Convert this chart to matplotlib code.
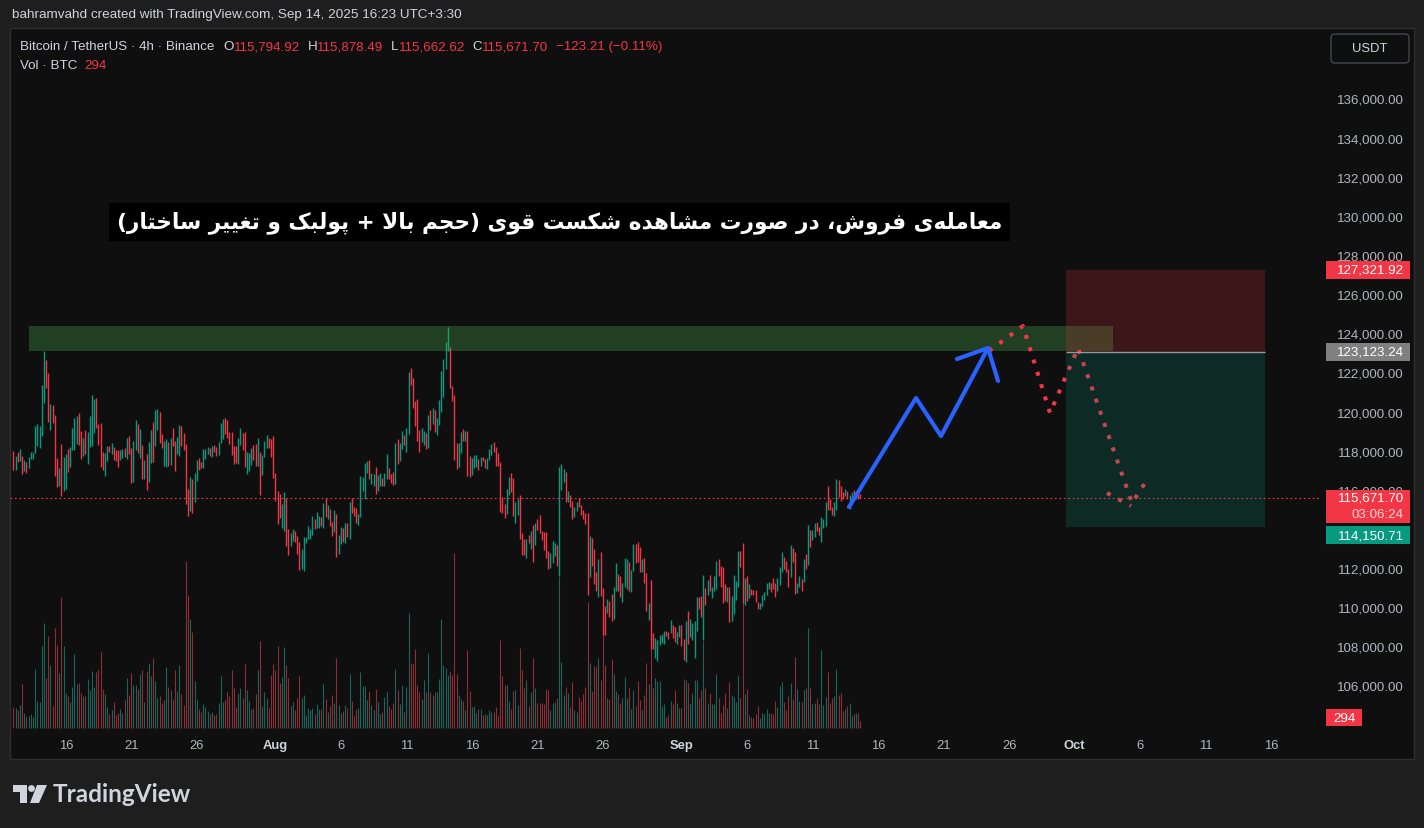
import numpy as np
import pandas as pd
import matplotlib
matplotlib.use("Agg")
import matplotlib.pyplot as plt
import matplotlib.dates as mdates
import matplotlib.transforms as mtransforms
from matplotlib.patches import Rectangle, FancyBboxPatch, Polygon, Circle

plt.rcParams["font.family"] = ["Liberation Sans", "DejaVu Sans"]

# ---- BTCUSDT 4h candles (Binance): 11 Jul -> 14 Sep 2025
highs = [
    118062, 117824, 118011, 118164, 117807, 117603, 117484, 117756, 118011, 118011,
    119337, 119422, 119337, 121428, 123179, 122703, 122040, 120459, 120408, 119898,
    117705, 117195, 118419, 117756, 117909, 118164, 118266, 119235, 119745, 119847,
    120000, 119082, 118725, 119133, 119031, 119847, 120918, 120714, 120765, 119439,
    119490, 118011, 117960, 118317, 118317, 118470, 118266, 118113, 118113, 118113,
    118164, 118215, 118725, 118827, 118215, 118572, 119643, 119439, 119184, 118368,
    117603, 117909, 118521, 119133, 119541, 120153, 120204, 120051,
    118929, 118572, 118674, 118521, 118725, 119235, 118572, 118776, 119388, 119337,
    118980, 118419, 116124, 116736, 116634, 116940, 117603, 117705, 117501, 118164,
    118164, 118266, 118215, 118317, 118368, 118266, 118521, 119490, 119694, 119745,
    119643, 119031, 119031, 118317, 118317, 118725, 119235, 118980, 119031, 118011,
    117960, 118215, 118368, 118419, 118725, 118011, 117858, 118572, 118878, 118725,
    118674, 118827, 116957, 116022, 115869, 115325, 115971, 115665, 114050, 113880,
    114050, 113965, 113727, 113387, 113030, 113676, 113676,
    114237, 114050, 114747, 114594, 114951, 114747, 114696, 115410, 115665, 115308,
    115104, 114441, 115053, 114849, 113744, 114186, 114101, 114390, 114356, 115461,
    115665, 115206, 115155, 114849, 116787, 116736, 117450, 117552, 117603, 116957,
    116889, 117246, 116855, 116957, 116702, 116957, 117909, 117212, 116906, 116991,
    118470, 118674, 118470, 119082, 118878, 119235, 122091, 122295, 121785, 120612,
    120714, 119133, 119235, 119082, 118980, 119898, 120153, 120255, 120153, 119745,
    120663, 122142, 122754, 123621, 124386, 123366,
    121400, 120900, 118470, 118470, 119031, 119184, 119082, 119082, 117807, 117705,
    117858, 117858, 117654, 117756, 117756, 117654, 117705, 118164, 118419, 118521,
    118266, 117960, 117501, 115682, 115359, 116141, 116753, 116940, 116685, 115461,
    115614, 115818, 113880, 113574, 113574, 113778, 113982, 114288, 114390, 114594,
    114798, 113982, 113931, 113931, 112928, 112826, 113472, 113370, 113268, 117263,
    117399, 117161, 116991, 115988, 115818, 115478, 115172, 115427, 115631, 115274,
    115019, 114866, 114866, 113693, 113625, 113030, 111857,
    112554, 112911, 111075, 110123, 110514, 110412, 110769, 111126, 112350, 111789,
    111687, 111330, 112605, 112554, 112401, 111993, 113319, 113319, 113421, 113166,
    112554, 112605, 111840, 110276, 111483, 108780, 108525, 108423, 108678, 108729,
    108882, 108882, 108831, 109443, 109188, 109086, 108831, 109188, 109188, 108474,
    109392, 109902, 109494, 109290, 109392, 110616, 110582, 110667, 111738, 111075,
    111483, 111738, 111126, 111687, 112452, 112554, 112197, 112146, 111279, 111126,
    111092, 110667, 111738, 111432, 112962, 112962, 113370,
    111585, 111687, 111279, 111024, 110939, 110973, 110361, 110276, 110718, 110871,
    111330, 111381, 111330, 111585, 111330, 111585, 112146, 112911, 112656, 112452,
    112044, 113268, 113115, 112911, 111330, 111687, 111534, 112554, 112809, 114288,
    114033, 113999, 114390, 114441, 114152, 114696, 114560, 115461, 116277, 115614,
    115206, 115461, 116634, 116583, 116277, 115937, 116124, 116022, 115818, 115971,
    116073, 115869, 116124, 115878.49,
]
lows = [
    117110, 117110, 117484, 117569, 116872, 117025, 116957, 117212, 117671, 117671,
    117977, 118334, 118232, 118844, 120527, 121292, 119558, 119150, 119507, 116804,
    116243, 116294, 115733, 115988, 116141, 117008, 117263, 118113, 118113, 118419,
    118368, 117671, 117824, 117926, 117416, 118283, 118334, 118997, 119235, 118368,
    117263, 117110, 116804, 117569, 118028, 117926, 117620, 117569, 117263, 117620,
    117722, 117756, 117671, 117926, 116447, 116498, 118113, 117960, 117722, 116651,
    116651, 116090, 116498, 117467, 117518, 118334, 119150, 118487,
    118232, 117314, 117263, 117314, 117365, 118334, 117059, 117926, 117824, 118334,
    118130, 115325, 114713, 114968, 114866, 115427, 116549, 117110, 117212, 117212,
    117671, 117926, 117824, 117773, 118028, 117824, 117875, 118470, 118674, 118929,
    118725, 118419, 117875, 117416, 117467, 117416, 118368, 118130, 117263, 116906,
    117059, 117365, 117620, 117314, 117314, 115784, 116855, 117773, 118232, 118232,
    117773, 116702, 115478, 114305, 114611, 114101, 113948, 113183, 112724, 113183,
    113438, 113387, 112775, 111959, 112044, 111908, 113336,
    113540, 113540, 113744, 114050, 114101, 114101, 114203, 114101, 114696, 114594,
    114203, 113693, 113897, 112622, 112775, 113285, 113387, 113336, 113676, 113540,
    114900, 114747, 114356, 114254, 114696, 115988, 115614, 116940, 116651, 116396,
    116294, 115835, 115988, 116294, 116294, 116294, 116651, 116651, 116447, 116345,
    116396, 117416, 117569, 118181, 118385, 118028, 118929, 121445, 120272, 119354,
    118589, 118028, 118538, 118368, 118181, 118232, 119133, 119439, 119031, 118895,
    119388, 120051, 120833, 122244, 123179, 121292,
    120629, 117620, 117161, 117263, 117977, 118589, 118589, 116804, 116753, 116855,
    117212, 117263, 117110, 117314, 117569, 117212, 117161, 117620, 117875, 118011,
    117314, 117314, 114951, 114866, 114611, 114815, 115784, 115937, 114713, 114356,
    114764, 113540, 112724, 112724, 112571, 113370, 113030, 112367, 113234, 114000,
    113880, 113489, 112979, 112571, 112010, 112061, 112316, 112673, 112163, 111653,
    116090, 116498, 115427, 115461, 115172, 114560, 114662, 114968, 115172, 114764,
    114560, 114305, 110684, 111602, 112163, 111245, 110888,
    110582, 110633, 108644, 108644, 109766, 109562, 109358, 109460, 110888, 110888,
    110582, 110327, 111092, 111024, 110888, 110837, 111908, 112350, 112401, 111857,
    111857, 111296, 109868, 109409, 107930, 107930, 107471, 107318, 108134, 108270,
    108185, 108593, 108440, 108746, 108491, 108287, 108185, 108542, 108083, 107352,
    107267, 108185, 108542, 108389, 107471, 108848, 109970, 109562, 108389, 110174,
    110684, 110888, 110531, 110888, 110990, 111653, 111092, 110276, 110378, 110327,
    109307, 109358, 109715, 110429, 111126, 112112, 110276,
    110174, 110378, 110531, 110684, 110684, 110327, 109970, 109970, 110123, 110429,
    110684, 110990, 110837, 110990, 110582, 110888, 111194, 111857, 112010, 111857,
    111092, 111602, 112367, 110735, 110786, 111092, 110888, 111347, 112044, 112214,
    113132, 113489, 113642, 113948, 113744, 113387, 114101, 114203, 115019, 115019,
    114798, 114713, 115019, 115716, 115512, 115614, 115767, 115614, 115104, 115716,
    115716, 115597, 115614, 115662.62,
]
# g = close above open, r = close below open
direction = (
    "rgrgrgrggg" "gggggrrgrr" "rgrggrgggg" "rrgrggggrr" "rrggrgrrrg" "grgrrggrgr" "grggrggr"
    "rggrgrrggr" "rrrgrggrrg" "ggrgrrgggr" "rrrrrggrrg" "ggrrgrgggr" "rrrrrggrrg" "grrrggg"
    "gggrggrgrg" "rrgrggrgrg" "rrrgggggrg" "grggrggrrr" "grggrggrrr" "rrggrgrgrg" "gggggr"
    "rrrggrgrrg" "ggrgrrgggr" "rrrrrggrrg" "grrrgrgrgr" "rrrrrgggrg" "ggrgrrggrr" "rrrgrrr"
    "grrrgrrggr" "rgggrggrrr" "grrgrrgggg" "grrgrrggrr" "grggggrrgr" "grgggrrrrg" "rggggrr"
    "grgrrrrggg" "ggrrrgggrr" "rgrrggrgrg" "rggrrgggrr" "rggrrrgrgg" "rgrr"
)
volumes = [
    945, 915, 810, 1035, 1980, 675, 540, 540, 630, 495,
    2655, 1215, 1170, 3690, 4725, 2250, 4140, 2835, 990, 4500,
    3735, 2475, 5895, 3690, 1575, 1440, 1170, 1845, 3330, 1980,
    2025, 1575, 1440, 1440, 2205, 1710, 2565, 1845, 2520, 2610,
    3420, 1755, 1530, 945, 630, 810, 1170, 585, 675, 855,
    675, 1260, 2250, 1485, 2475, 1935, 1935, 1755, 2430, 2610,
    1170, 2565, 2925, 2340, 3150, 2115, 1350, 1440, 1125, 1260,
    2745, 1845, 1710, 1305, 2610, 1665, 2835, 1530, 1035, 7515,
    5985, 4905, 4320, 2115, 1260, 855, 720, 1080, 945, 765,
    630, 720, 585, 630, 1125, 2340, 1170, 1260, 1620, 1440,
    2610, 1800, 945, 1575, 1800, 1350, 2880, 1710, 1215, 855,
    900, 1530, 2610, 3915, 990, 1620, 1350, 900, 2385, 2880,
    2610, 3690, 2025, 2295, 3645, 2835, 2250, 990, 1170, 810,
    1350, 2340, 1350, 1485, 585, 900, 810, 900, 630, 1080,
    855, 855, 1980, 1305, 720, 990, 1485, 1125, 3150, 1035,
    675, 765, 1035, 900, 2430, 1215, 540, 855, 900, 2520,
    1890, 1890, 1260, 1665, 1035, 810, 1755, 1170, 630, 720,
    1395, 1620, 990, 855, 1125, 2655, 1710, 1080, 1935, 720,
    1845, 5175, 2925, 2880, 3555, 1935, 1620, 1305, 2160, 1620,
    3375, 1620, 1485, 1620, 1620, 2205, 4905,
    2835, 2700, 2385, 2565, 2385, 7875, 2430, 1485, 1305, 1215,
    810, 3510, 1665, 945, 990, 675, 855, 855, 585, 630,
    585, 810, 720, 720, 945, 540, 3960, 2340, 1935, 1935,
    1215, 855, 1665, 1710, 1035, 3600, 2610, 1800, 2160, 990,
    1620, 3150, 1800, 1125, 1125, 1125, 1080, 1755, 1710, 810,
    1125, 1170, 1350, 6795, 2970, 1485, 1845, 1575, 945, 2070,
    810, 720, 1395, 1215, 1530, 1845, 5670, 2925, 1665, 2790,
    2745, 3150, 2160, 4680, 2835, 1350, 1305, 3105, 2430, 1665,
    1530, 1125, 1350, 2295, 1350, 1800, 855, 1710, 990, 2115,
    1260, 810, 1485, 2925, 1980, 6660, 1800, 2250, 2115, 2115,
    990, 1080, 495, 585, 1215, 1080, 1710, 1125, 900, 900,
    2205, 2160, 2025, 1080, 1575, 2160, 2160, 1350, 1710, 3915,
    1800, 1125, 1575, 1080, 1080, 2430, 1350, 675, 1035, 1575,
    900, 2070, 1485, 1395, 1170, 2385, 1350, 6615, 1530, 1755,
    585, 495, 450, 630, 990, 450, 675, 630, 855, 675,
    675, 630, 1215, 945, 1890, 2070, 1170, 810, 1440, 2025,
    1305, 3195, 1755, 1215, 1170, 1710, 1800, 4500, 1800, 1080,
    1125, 1350, 1080, 3510, 1035, 1395, 2520, 1125, 1350, 1440,
    2655, 1485, 1575, 765, 855, 990, 1125, 540, 630, 675,
    675, 294,
]
last_bar = "2025-09-14 15:30"
last_open, last_high, last_low, last_close = 115794.92, 115878.49, 115662.62, 115671.70
last_change, last_change_pct = -123.21, -0.11
last_volume = 294
countdown = "03:06:24"

# drawings on the chart
zone_start, zone_end = "2025-07-13 04:20", "2025-10-03 22:00"
zone_low, zone_high = 123163, 124439
pos_start, pos_end = "2025-09-30 08:10", "2025-10-15 12:40"
stop_price, entry_price, target_price = 127321.92, 123123.24, 114150.71
arrow_times = ["2025-09-13 18:30", "2025-09-18 21:15", "2025-09-20 19:05", "2025-09-24 09:10"]
arrow_prices = [115196, 120767, 118824, 123322]
head_times = ["2025-09-22 00:20", "2025-09-24 09:10", "2025-09-25 03:30"]
head_prices = [122760, 123322, 121636]
path_times = ["2025-09-24 11:00", "2025-09-27 01:15", "2025-09-29 02:45", "2025-10-01 06:05",
              "2025-10-05 09:00", "2025-10-06 08:45"]
path_prices = [123169, 124447, 120000, 123322, 115400, 116422]
path2_times = ["2025-10-03 11:10", "2025-10-05 07:10"]
path2_prices = [115911, 115247]
note = "معامله‌ی فروش، در صورت مشاهده شکست قوی (حجم بالا + پولبک و تغییر ساختار)"
note_time, note_price = "2025-08-22 17:00", 129760

# 114,000 sits under the target tag and 138,000 under the currency button
price_ticks = [106000, 108000, 110000, 112000, 116000, 118000, 120000, 122000,
               124000, 126000, 128000, 130000, 132000, 134000, 136000]
date_ticks = ["2025-07-16", "2025-07-21", "2025-07-26", "2025-08-01", "2025-08-06", "2025-08-11",
              "2025-08-16", "2025-08-21", "2025-08-26", "2025-09-01", "2025-09-06", "2025-09-11",
              "2025-09-16", "2025-09-21", "2025-09-26", "2025-10-01", "2025-10-06", "2025-10-11",
              "2025-10-16"]
date_labels = ["16", "21", "26", "Aug", "6", "11", "16", "21", "26", "Sep", "6", "11",
               "16", "21", "26", "Oct", "6", "11", "16"]

# ---- persian shaping (matplotlib has no bidi / joining)
FA_FORMS = {
    "\u0627": ("\uFE8D", "\uFE8E", None, None),
    "\u0628": ("\uFE8F", "\uFE90", "\uFE91", "\uFE92"),
    "\u067E": ("\uFB56", "\uFB57", "\uFB58", "\uFB59"),
    "\u062A": ("\uFE95", "\uFE96", "\uFE97", "\uFE98"),
    "\u062C": ("\uFE9D", "\uFE9E", "\uFE9F", "\uFEA0"),
    "\u062D": ("\uFEA1", "\uFEA2", "\uFEA3", "\uFEA4"),
    "\u062E": ("\uFEA5", "\uFEA6", "\uFEA7", "\uFEA8"),
    "\u062F": ("\uFEA9", "\uFEAA", None, None),
    "\u0631": ("\uFEAD", "\uFEAE", None, None),
    "\u0632": ("\uFEAF", "\uFEB0", None, None),
    "\u0633": ("\uFEB1", "\uFEB2", "\uFEB3", "\uFEB4"),
    "\u0634": ("\uFEB5", "\uFEB6", "\uFEB7", "\uFEB8"),
    "\u0635": ("\uFEB9", "\uFEBA", "\uFEBB", "\uFEBC"),
    "\u0639": ("\uFEC9", "\uFECA", "\uFECB", "\uFECC"),
    "\u063A": ("\uFECD", "\uFECE", "\uFECF", "\uFED0"),
    "\u0641": ("\uFED1", "\uFED2", "\uFED3", "\uFED4"),
    "\u0642": ("\uFED5", "\uFED6", "\uFED7", "\uFED8"),
    "\u06A9": ("\uFB8E", "\uFB8F", "\uFB90", "\uFB91"),
    "\u0644": ("\uFEDD", "\uFEDE", "\uFEDF", "\uFEE0"),
    "\u0645": ("\uFEE1", "\uFEE2", "\uFEE3", "\uFEE4"),
    "\u0647": ("\uFEE9", "\uFEEA", "\uFEEB", "\uFEEC"),
    "\u0648": ("\uFEED", "\uFEEE", None, None),
    "\u06CC": ("\uFBFC", "\uFBFD", "\uFBFE", "\uFBFF"),
}


def shape_fa(text):
    text = text.replace("\u064A", "\u06CC").replace("\u0643", "\u06A9")

    def dual(c):
        return c in FA_FORMS and FA_FORMS[c][2] is not None

    out = []
    i, n = 0, len(text)
    while i < n:
        c = text[i]
        if c not in FA_FORMS:
            if c != "\u200c":
                out.append(c)
            i += 1
            continue
        prev = text[i - 1] if i > 0 else ""
        nxt = text[i + 1] if i + 1 < n else ""
        jp = dual(prev)
        if c == "\u0644" and nxt == "\u0627":
            out.append("\uFEFC" if jp else "\uFEFB")
            i += 2
            continue
        jn = dual(c) and nxt in FA_FORMS
        iso, fin, ini, med = FA_FORMS[c]
        out.append(med if (jp and jn) else fin if jp else ini if jn else iso)
        i += 1
    vis = "".join(reversed(out))
    return vis.translate(str.maketrans("()", ")("))


# ---- figure
W, H = 1424, 829
fig = plt.figure(figsize=(W / 100, H / 100), dpi=100)
fig.patch.set_facecolor("#1e1e1e")
px = mtransforms.Affine2D().scale(1 / W, -1 / H).translate(0, 1) + fig.transFigure


def rect(x0, y0, x1, y1):
    return [x0 / W, 1 - y1 / H, (x1 - x0) / W, (y1 - y0) / H]


pane = fig.add_axes(rect(10, 29, 1414, 760))
pane.set_facecolor("#0f0f0f")
pane.set_xticks([])
pane.set_yticks([])
for s in pane.spines.values():
    s.set_color("#2e2e2e")
    s.set_linewidth(1)

vax = fig.add_axes(rect(10, 32, 1320, 733))
ax = fig.add_axes(rect(10, 32, 1320, 733))
vax.axis("off")
ax.axis("off")

t0 = mdates.date2num(pd.Timestamp("2025-07-01"))
for a in (ax, vax):
    a.set_xlim(t0 + 10.725, t0 + 110.725)
ax.set_ylim(103696, 139524)
vax.set_ylim(-180, 31365)

n = min(len(highs), len(lows), len(direction), len(volumes))
times = pd.date_range(end=last_bar, periods=n, freq="4h")
x = mdates.date2num(times)
up = np.array([d == "g" for d in direction[:n]])

vax.vlines(x, 0, volumes[:n], colors=np.where(up, "#17665b", "#8c2f35"), linewidth=0.8)
ax.vlines(x, lows[:n], highs[:n], colors=np.where(up, "#089981", "#f23645"),
          linewidth=1.0, zorder=3)

ax.axhline(last_close, color="#f23645", linewidth=0.8, linestyle=(0, (1.5, 2.5)), zorder=2)

d = lambda s: mdates.date2num(pd.Timestamp(s))

# resistance zone
ax.add_patch(Rectangle((d(zone_start), zone_low), d(zone_end) - d(zone_start), zone_high - zone_low,
                       facecolor="#4caf50", alpha=0.3, edgecolor="none", zorder=3.5))

# projected path (dotted)
dot_style = dict(color="#f23645", linewidth=2.9, linestyle=(0, (1, 2.2)), dash_capstyle="butt", zorder=4)
ax.plot([d(s) for s in path_times], path_prices, **dot_style)
ax.plot([d(s) for s in path2_times], path2_prices, **dot_style)

# short position tool
ps, pe = d(pos_start), d(pos_end)
ax.add_patch(Rectangle((ps, entry_price), pe - ps, stop_price - entry_price,
                       facecolor="#f23645", alpha=0.2, edgecolor="none", zorder=5))
ax.add_patch(Rectangle((ps, target_price), pe - ps, entry_price - target_price,
                       facecolor="#089981", alpha=0.2, edgecolor="none", zorder=5))
ax.hlines(entry_price, ps, pe, color="#9598a1", linewidth=1, zorder=5.5)

# blue arrow
arrow_style = dict(color="#2962ff", linewidth=3, solid_capstyle="round", solid_joinstyle="round", zorder=6)
ax.plot([d(s) for s in arrow_times], arrow_prices, **arrow_style)
ax.plot([d(s) for s in head_times], head_prices, **arrow_style)

# note
ax.text(d(note_time), note_price, shape_fa(note), color="white", fontsize=15.6, fontweight="bold",
        family=["DejaVu Sans"], ha="center", va="center", zorder=7,
        bbox=dict(facecolor="black", edgecolor="none", boxstyle="square,pad=0.36"))

# price scale
ptrans = mtransforms.blended_transform_factory(fig.transFigure, ax.transData)
ppx = (ax.get_ylim()[1] - ax.get_ylim()[0]) / 701
for p in price_ticks:
    ax.text(1404 / W, p, f"{p:,.2f}", transform=ptrans, ha="right", va="center",
            color="#b2b5be", fontsize=9.6, clip_on=False, zorder=8)


def tag(p, text, fc, top=9, bottom=9, shift=0, tc="white"):
    yc = p - shift * ppx
    ax.add_patch(Rectangle((1326 / W, yc - bottom * ppx), 84 / W, (top + bottom) * ppx,
                           transform=ptrans, facecolor=fc, edgecolor="none", zorder=9, clip_on=False))
    ax.text(1404 / W, yc, text, transform=ptrans, ha="right", va="center", color=tc,
            fontsize=9.6, clip_on=False, zorder=10)


tag(stop_price, f"{stop_price:,.2f}", "#f23645")
tag(entry_price, f"{entry_price:,.2f}", "#808080")
tag(last_close, f"{last_close:,.2f}", "#f23645", top=8, bottom=25)
ax.text(1404 / W, last_close - 16 * ppx, countdown, transform=ptrans, ha="right", va="center",
        color="#fbd5d8", fontsize=9.6, clip_on=False, zorder=10)
tag(target_price, f"{target_price:,.2f}", "#089981", shift=7.6)

vtrans = mtransforms.blended_transform_factory(fig.transFigure, vax.transData)
vpx = (vax.get_ylim()[1] - vax.get_ylim()[0]) / 701
vax.add_patch(Rectangle((1326 / W, last_volume - 5 * vpx), 36 / W, 17 * vpx, transform=vtrans,
                        facecolor="#f23645", edgecolor="none", zorder=9, clip_on=False))
vax.text(1344 / W, last_volume + 3.5 * vpx, str(last_volume), transform=vtrans, ha="center",
         va="center", color="white", fontsize=9.6, clip_on=False, zorder=10)

# time scale
dtrans = mtransforms.blended_transform_factory(ax.transData, ax.transAxes)
for s, lab in zip(date_ticks, date_labels):
    month = not lab.isdigit()
    ax.text(d(s), -0.0185, lab, transform=dtrans, ha="center", va="center",
            color="#d1d4dc" if month else "#b2b5be", fontsize=9.4,
            fontweight="bold" if month else "normal", clip_on=False)

# header / legend
fig.text(12, 15, "bahramvahd created with TradingView.com, Sep 14, 2025 16:23 UTC+3:30",
         transform=px, color="#d1d4dc", fontsize=9.7, va="center")
grey, red = "#d1d4dc", "#f23645"
legend_parts = [("Bitcoin / TetherUS · 4h · Binance", grey, 0),
                ("O", grey, 6.5), (f"{last_open:,.2f}", red, 0),
                ("H", grey, 5.5), (f"{last_high:,.2f}", red, 0),
                ("L", grey, 5.5), (f"{last_low:,.2f}", red, 0),
                ("C", grey, 5.5), (f"{last_close:,.2f}", red, 0),
                (f"\u2212{abs(last_change):.2f} (\u2212{abs(last_change_pct):.2f}%)", red, 5.5)]
prev = None
for txt, col, gap in legend_parts:
    if prev is None:
        prev = fig.text(20, 47, txt, transform=px, color=col, fontsize=9.6, va="center")
    else:
        prev = ax.annotate(txt, xy=(1, 0.5), xycoords=prev, xytext=(gap, 0),
                           textcoords="offset points", color=col, fontsize=9.6,
                           va="center", ha="left", annotation_clip=False)
vol_lab = fig.text(20, 66, "Vol · BTC", transform=px, color=grey, fontsize=9.6, va="center")
ax.annotate(str(last_volume), xy=(1, 0.5), xycoords=vol_lab, xytext=(5, 0),
            textcoords="offset points", color=red, fontsize=9.6, va="center", ha="left",
            annotation_clip=False)

# currency button
fig.patches.append(FancyBboxPatch((1331, 35), 78, 29, boxstyle="round,pad=0,rounding_size=4",
                                  transform=px, facecolor="#0f0f0f", edgecolor="#434651",
                                  linewidth=1, zorder=20))
fig.text(1370, 49.5, "USDT", transform=px, color="#d1d4dc", fontsize=9.4, ha="center",
         va="center", zorder=21)

# TradingView logo
logo = "#d1d4dc"
fig.patches.append(Polygon([(13, 786), (27, 786), (27, 804), (20, 804), (20, 793), (13, 793)],
                           closed=True, transform=px, facecolor=logo, edgecolor="none"))
fig.patches.append(Circle((31.5, 789.5), 3.4, transform=px, facecolor=logo, edgecolor="none"))
fig.patches.append(Polygon([(37, 786), (47, 786), (39, 804), (30, 804)],
                           closed=True, transform=px, facecolor=logo, edgecolor="none"))
fig.text(53, 795, "TradingView", transform=px, color=logo, fontsize=17.5, va="center",
         family=["Lato", "DejaVu Sans"], fontweight="bold")

fig.savefig("out.png", dpi=100, facecolor=fig.get_facecolor())
